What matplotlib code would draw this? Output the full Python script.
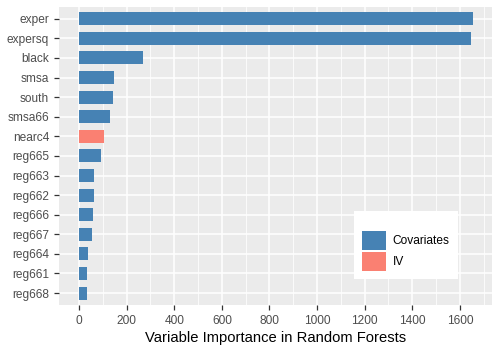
import matplotlib
matplotlib.use("Agg")
import matplotlib.pyplot as plt
from matplotlib.patches import Patch

plt.rcParams['font.family'] = ['Liberation Sans', 'DejaVu Sans']

variables = ["exper", "expersq", "black", "smsa", "south", "smsa66", "nearc4",
             "reg665", "reg663", "reg662", "reg666", "reg667", "reg664", "reg661", "reg668"]
importance = [1655, 1647, 269, 147, 143, 130, 105, 92, 63, 63, 58, 54, 38, 34, 34]
groups = ["Covariates", "Covariates", "Covariates", "Covariates", "Covariates", "Covariates", "IV",
          "Covariates", "Covariates", "Covariates", "Covariates", "Covariates", "Covariates", "Covariates", "Covariates"]
group_colors = {"Covariates": "#4682B4", "IV": "#FA8072"}
x_ticks = [0, 200, 400, 600, 800, 1000, 1200, 1400, 1600]

fig = plt.figure(figsize=(5, 3.5), dpi=100)
ax = fig.add_axes([0.118, 0.129, 0.866, 0.851])
ax.set_facecolor("#EBEBEB")

n = len(variables)
ypos = [n - i for i in range(n)]
ax.barh(ypos, importance, height=0.66, color=[group_colors[g] for g in groups], zorder=3)

ax.set_xlim(-84, 1735)
ax.set_ylim(0.4, n + 0.6)
ax.set_yticks(ypos)
ax.set_yticklabels(variables)
ax.set_xticks(x_ticks)
ax.set_xticks([x + 100 for x in x_ticks], minor=True)
ax.tick_params(axis='both', which='major', colors="#333333", labelcolor="#4D4D4D",
               labelsize=8.6, length=3.6, width=0.9)
ax.tick_params(axis='x', which='minor', length=0)
ax.grid(which='major', color='white', linewidth=1.1, zorder=0)
ax.grid(which='minor', axis='x', color='white', linewidth=0.55, zorder=0)
for s in ax.spines.values():
    s.set_visible(False)
ax.set_axisbelow(True)
ax.set_xlabel("Variable Importance in Random Forests", fontsize=10.6, color="black", labelpad=3)

handles = [Patch(facecolor=group_colors[k], edgecolor='none', label=k) for k in ["Covariates", "IV"]]
leg = ax.legend(handles=handles, loc='upper left', bbox_to_anchor=(0.681, 0.315),
                frameon=True, fancybox=False, framealpha=1, edgecolor='white',
                fontsize=8.6, handlelength=1.95, handleheight=2.05, handletextpad=0.6,
                labelspacing=0.15, borderpad=0.7, borderaxespad=0,
                title=" ", title_fontsize=7)
leg.get_frame().set_linewidth(0)

fig.savefig("out.png", dpi=100)
